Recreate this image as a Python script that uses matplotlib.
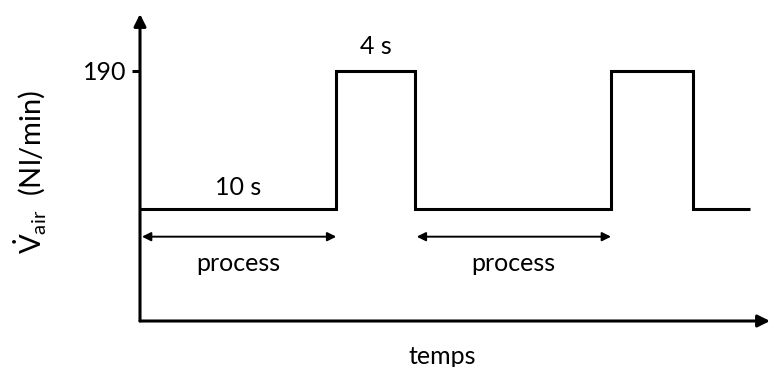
import matplotlib
matplotlib.use("Agg")
import matplotlib.pyplot as plt

plt.rcParams['font.family'] = ['Lato', 'DejaVu Sans']
plt.rcParams['mathtext.fontset'] = 'custom'
plt.rcParams['mathtext.rm'] = 'Lato'
plt.rcParams['mathtext.it'] = 'Lato'

# step signal: edges (s) and air flow levels (Nl/min)
time_edges = [0, 10, 14, 24, 28.2, 31.1]
flow_levels = [85, 190, 85, 190, 85]
process_spans = [(0, 10), (14, 24)]
duration_labels = ["10 s", "4 s"]
y_ticks = [190]

fig = plt.figure(figsize=(7.7, 3.67), dpi=100)
ax = fig.add_axes([140 / 770, 46 / 367, 630 / 770, 307 / 367])
ax.set_xlim(0, 32.1)
ax.set_ylim(0, 233)
for s in ax.spines.values():
    s.set_visible(False)
ax.set_xticks([])
ax.set_yticks(y_ticks)
ax.set_yticklabels([str(v) for v in y_ticks], fontsize=18)
ax.tick_params(axis='y', length=6, width=2.2, pad=4)

# axes with arrow heads
ax.annotate("", xy=(0, 233), xytext=(0, 0),
            arrowprops=dict(arrowstyle="-|>", lw=2.2, color="black",
                            mutation_scale=18, shrinkA=0, shrinkB=0),
            annotation_clip=False)
ax.annotate("", xy=(32.1, 0), xytext=(0, 0),
            arrowprops=dict(arrowstyle="-|>", lw=2.2, color="black",
                            mutation_scale=18, shrinkA=0, shrinkB=0),
            annotation_clip=False)

ax.stairs(flow_levels, time_edges, baseline=None, color="black", lw=2.2)

# process arrows
for (a, b) in process_spans:
    ax.annotate("", xy=(a + 0.1, 64), xytext=(b, 64),
                arrowprops=dict(arrowstyle="<|-|>", lw=1.4, color="black",
                                mutation_scale=13, shrinkA=0, shrinkB=0))
    ax.text((a + b) / 2, 44, "process", ha="center", va="center", fontsize=18)

ax.text(5, 101, duration_labels[0], ha="center", va="center", fontsize=18)
ax.text(12, 208, duration_labels[1], ha="center", va="center", fontsize=18)

ax.text(15.4, -27, "temps", ha="center", va="center", fontsize=18, clip_on=False)
fig.text(30 / 770, 1 - 172 / 367, r"$\dot{\mathrm{V}}_{\mathrm{air}}$  (Nl/min)",
         rotation=90, ha="center", va="center", fontsize=21)

fig.savefig("out.png", dpi=100)
